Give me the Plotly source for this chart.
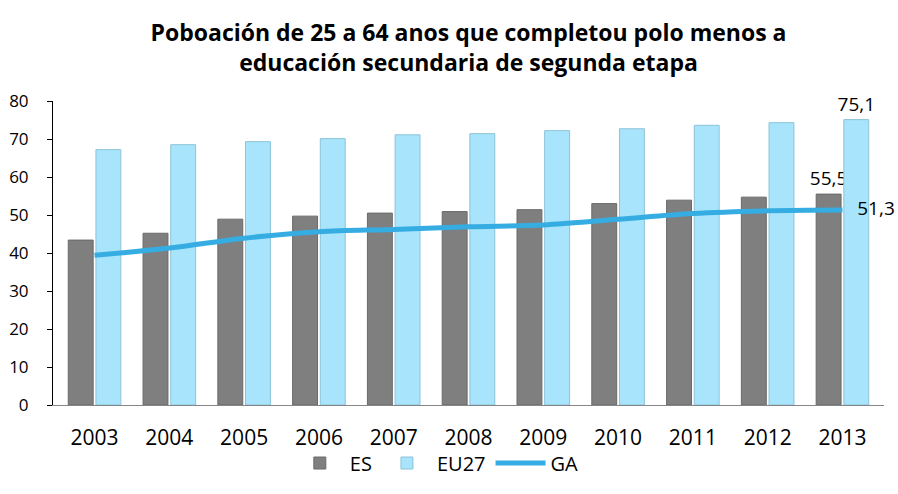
import plotly.graph_objects as go

years = ["2003", "2004", "2005", "2006", "2007", "2008", "2009", "2010", "2011", "2012", "2013"]
es = [43.4, 45.2, 48.9, 49.7, 50.5, 50.9, 51.4, 53.0, 53.9, 54.7, 55.5]
eu27 = [67.2, 68.5, 69.3, 70.1, 71.1, 71.4, 72.2, 72.7, 73.6, 74.3, 75.1]
ga = [39.4, 41.3, 43.9, 45.6, 46.2, 46.9, 47.4, 48.9, 50.4, 51.1, 51.3]

def fmt(v):
    return f"{v:.1f}".replace(".", ",")

def last_label(vals, prefix=""):
    return [""] * (len(vals) - 1) + [prefix + fmt(vals[-1])]

font_main = "Open Sans, Liberation Sans, sans-serif"

fig = go.Figure()
fig.add_trace(go.Bar(
    name="ES", x=years, y=es,
    marker=dict(color="#7f7f7f", line=dict(color="#6a6a6a", width=1)),
    text=last_label(es), textposition="outside", cliponaxis=False,
    constraintext="none",
    textfont=dict(size=19, color="#000000"),
))
fig.add_trace(go.Bar(
    name="EU27", x=years, y=eu27,
    marker=dict(color="#a8e4fb", line=dict(color="#8cc3d8", width=1)),
    text=last_label(eu27), textposition="outside", cliponaxis=False,
    constraintext="none",
    textfont=dict(size=19, color="#000000"),
))
fig.add_trace(go.Scatter(
    name="GA", x=years, y=ga, mode="lines+text",
    line=dict(color="#35ade3", width=5, shape="spline"),
    text=last_label(ga, prefix="   "), textposition="middle right",
    textfont=dict(size=19, color="#000000"), cliponaxis=False,
))

fig.update_layout(
    width=898, height=494,
    paper_bgcolor="white", plot_bgcolor="white",
    margin=dict(l=53, r=14, t=101, b=87),
    separators=",.",
    barmode="group", bargap=0.26, bargroupgap=0.1,
    font=dict(family=font_main, size=16, color="#000000"),
    title=dict(
        text="<b>Poboación de 25 a 64 anos que completou polo menos a<br>educación secundaria de segunda etapa</b>",
        x=0.5, xanchor="center", xref="paper",
        y=1 - 41 / 494, yanchor="middle", yref="container",
        automargin=False,
        font=dict(family=font_main, size=23, color="#000000"),
    ),
    legend=dict(
        orientation="h", x=0.285, xanchor="left", y=-0.255, yanchor="bottom",
        font=dict(size=20), itemwidth=50, traceorder="normal",
        bgcolor="rgba(0,0,0,0)",
    ),
    xaxis=dict(
        type="category",
        showline=True, linecolor="#868686", linewidth=1, ticks="",
        tickfont=dict(size=21), showgrid=False, ticklabelstandoff=14,
        automargin=False,
    ),
    yaxis=dict(
        range=[0, 80], dtick=10, showgrid=False, zeroline=False,
        showline=True, linecolor="#000000", linewidth=1,
        ticks="outside", ticklen=5, tickcolor="#000000",
        tickfont=dict(size=17), ticklabelstandoff=15,
        automargin=False,
    ),
)

fig.write_html(
    "out.html",
    config={"displayModeBar": False},
    post_script="document.body.style.margin='0';document.body.style.overflow='hidden';",
)
